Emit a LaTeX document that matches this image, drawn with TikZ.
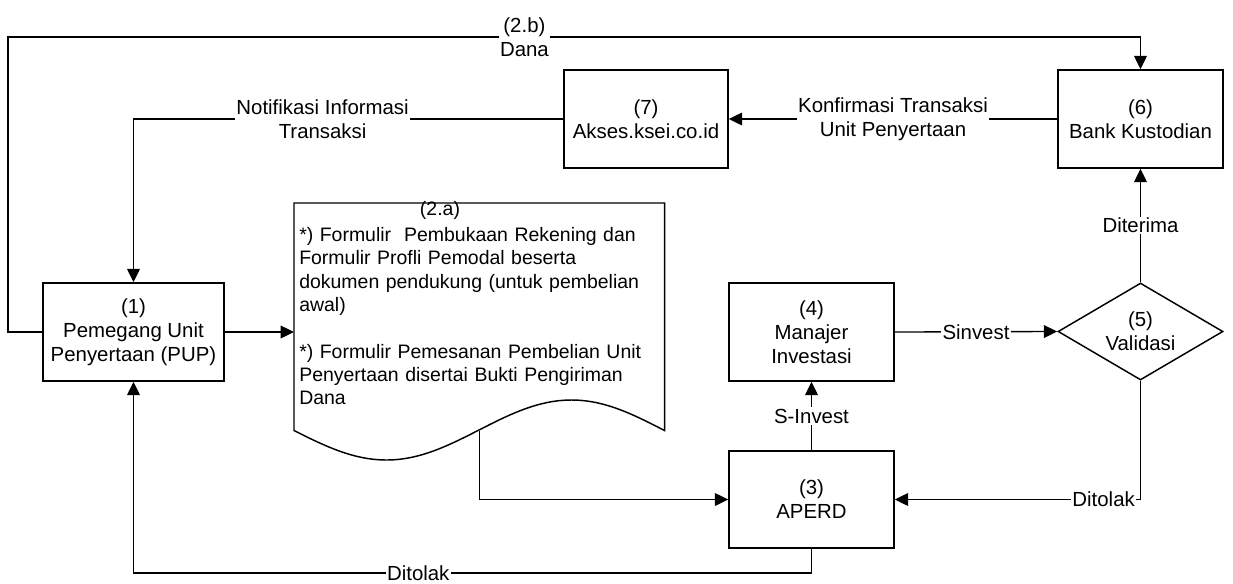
\documentclass[tikz,border=0pt]{standalone}
\usepackage{fontspec}
\setmainfont{Liberation Sans}
\usetikzlibrary{shapes.geometric,arrows.meta}
\begin{document}
\begin{tikzpicture}[x=0.75pt,y=-0.75pt,
  box/.style={draw=black, line width=1.1pt, rectangle, align=center, inner sep=2pt, font=\fontsize{15.3}{18}\selectfont},
  dia/.style={draw=black, line width=1.1pt, diamond, aspect=1.7, align=center, inner sep=0pt, font=\fontsize{15.3}{18}\selectfont, minimum width=123.75pt, minimum height=72.75pt},
  conn/.style={line width=1pt, -{Triangle[length=10pt,width=9.5pt]}},
  lbl/.style={fill=white, inner sep=1pt, align=center, font=\fontsize{15.3}{18}\selectfont},
  doctext/.style={inner sep=0pt, align=left, text width=270pt, font=\fontsize{14.6}{17.5}\selectfont}]
\useasboundingbox[fill=white] (0,0) rectangle (1233,583);

% nodes
\node[box, minimum width=135.75pt, minimum height=73.5pt] (n1) at (133.5,332) {(1)\\Pemegang Unit\\Penyertaan (PUP)};
\node[box, minimum width=123pt, minimum height=73.5pt] (n7) at (646,119) {(7)\\Akses.ksei.co.id};
\node[box, minimum width=123.75pt, minimum height=73.5pt] (n6) at (1140.5,119) {(6)\\Bank Kustodian};
\node[box, minimum width=123.75pt, minimum height=73.5pt] (n4) at (811.5,332) {(4)\\Manajer\\Investasi};
\node[box, minimum width=123.75pt, minimum height=72.75pt] (n3) at (811.5,499.5) {(3)\\APERD};
\node[dia] (n5) at (1140.5,331.5) {(5)\\Validasi};

% document shape
\node[minimum width=277.5pt, minimum height=170.25pt, inner sep=0pt, anchor=north west] (doc) at (294,203) {};
\draw[line width=1.1pt] (doc.south west) -- (doc.north west) -- (doc.north east) -- (doc.south east)
  sin (571.5,400) cos (479,430) sin (386.5,460) cos (doc.south west) -- cycle;
\node[inner sep=0pt, anchor=base, font=\fontsize{14.6}{17.5}\selectfont] (l2a) at (440,215) {(2.a)};
\node[doctext, anchor=north west] (dt) at (299,227) {*) Formulir\ \ Pembukaan Rekening dan\\Formulir Profli Pemodal beserta\\dokumen pendukung (untuk pembelian\\awal)\\[17.5pt]*) Formulir Pemesanan Pembelian Unit\\Penyertaan disertai Bukti Pengiriman\\Dana};

% connectors
\coordinate (cL) at (8,37);
\draw[conn] (n1.west) -| (cL) -| node[lbl,pos=0.228]{(2.b)\\Dana} (n6.north);
\draw[conn] (n6.west) -- node[lbl]{Konfirmasi Transaksi\\Unit Penyertaan} (n7.east);
\draw[conn] (n7.west) -| node[lbl,pos=0.28]{Notifikasi Informasi\\Transaksi} (n1.north);
\draw[conn] (n1.east) -- (n1.east -| doc.west);
\draw[conn] (doc.south) |- (n3.west);
\draw[conn] (n3.north) -- node[lbl]{S-Invest} (n4.south);
\draw[conn] (n4.east) -- node[lbl]{Sinvest} (n5.west);
\draw[conn] (n5.north) -- node[lbl]{Diterima} (n6.south);
\draw[conn] (n5.south) |- node[lbl,pos=0.575]{Ditolak} (n3.east);
\coordinate (cB) at (133.5,573);
\draw[conn] (n3.south) |- node[lbl,pos=0.79]{Ditolak} (cB) -- (n1.south);
\end{tikzpicture}
\end{document}
